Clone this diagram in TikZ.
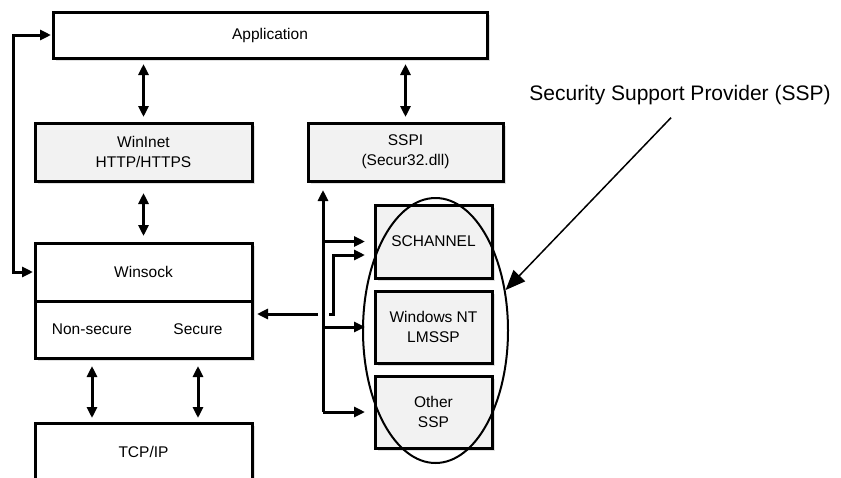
\documentclass[tikz,border=0pt]{standalone}
\usepackage{fontspec}
\setmainfont{Liberation Sans}
\usetikzlibrary{arrows.meta,shapes.geometric,shadows}
\newcommand{\boxfont}{\fontsize{15.5}{20}\selectfont}

\tikzset{
	box/.style={draw, line width=3pt, fill=white, inner sep=0pt, outer sep=0pt, align=center, font=\boxfont,
		drop shadow={shadow xshift=3pt, shadow yshift=-3pt, fill=black!12, opacity=1}},
	greybox/.style={box, fill=black!5},
	biarrow/.style={{Triangle[length=11pt,width=10pt]}-{Triangle[length=11pt,width=10pt]}, line width=3pt},
	toarrow/.style={-{Triangle[length=11pt,width=10pt]}, line width=3pt},
}

\begin{document}
\begin{tikzpicture}[x=1pt, y=-1pt]
			%%%%% START %%%%%
			\useasboundingbox (0, 0) rectangle (841, 477);
			\clip (0, 0) rectangle (841, 477);
			
			\node[box, minimum width=434pt, minimum height=46pt] (app) at (270, 35) {Application};
			\node[greybox, minimum width=217pt, minimum height=58pt] (wininet) at (143.5, 152) {WinInet\\HTTP/HTTPS};
			\node[greybox, minimum width=195pt, minimum height=58pt] (sspi) at (405.5, 152) {SSPI\\(Secur32.dll)};
			
			\node[box, minimum width=217pt, minimum height=58pt] (winsock) at (143.5, 272) {Winsock};
			\node[box, minimum width=217pt, minimum height=57pt] (wslow) at (143.5, 329.5) {};
			\node[font=\boxfont] (nonsec) at (92, 329) {Non-secure};
			\node[font=\boxfont] (sec) at (198, 329) {Secure};
			\node[box, minimum width=217pt, minimum height=58pt] (tcpip) at (143.5, 452) {TCP/IP};
			
			\node[greybox, minimum width=117pt, minimum height=73pt] (schannel) at (433.5, 241.5) {SCHANNEL};
			\node[greybox, minimum width=117pt, minimum height=72pt] (winnt) at (433.5, 327) {Windows NT\\LMSSP};
			\node[greybox, minimum width=117pt, minimum height=72pt] (other) at (433.5, 412) {Other\\SSP};
			
			\node[draw, ellipse, line width=2pt, minimum width=145pt, minimum height=265pt, inner sep=0pt] (sspring) at (435.5, 330.5) {};
			\node[font=\fontsize{21}{25}\selectfont] (ssplabel) at (680, 95) {Security Support Provider (SSP)};
			
			\draw[biarrow, shorten <=6pt, shorten >=6pt] (app.south -| wininet.north) -- (wininet.north);
			\draw[biarrow, shorten <=6pt, shorten >=6pt] (app.south -| sspi.north) -- (sspi.north);
			\draw[biarrow, shorten <=12pt, shorten >=7pt] (wininet.south) -- (winsock.north);
			\draw[biarrow, shorten <=8pt, shorten >=5pt] (wslow.south -| nonsec) -- (tcpip.north -| nonsec);
			\draw[biarrow, shorten <=8pt, shorten >=5pt] (wslow.south -| sec) -- (tcpip.north -| sec);
			\draw[biarrow, shorten <=2pt, shorten >=2pt] (app.west) -- ++(-40, 0) |- (winsock.west);
			
			\coordinate (bus) at (323, 314);
			\coordinate (ltop) at (333, 255);
			\draw[toarrow, shorten >=9pt] (other.west -| bus) -- (sspi.south -| bus);
			\foreach \n in {schannel, winnt, other}
				\draw[toarrow, shorten >=10pt] (\n.west -| bus) -- (\n.west);
			\draw[toarrow, shorten <=5pt, shorten >=5pt] (bus) -- (bus -| wslow.east);
			\draw[toarrow, shorten >=10pt] ([xshift=6pt]bus) -| (ltop) -- (ltop -| schannel.west);
			
			\draw[-{Triangle[length=20pt,width=16pt]}, line width=1.5pt, shorten <=13pt] (ssplabel.south) -- (sspring.30);
			%%%%% END %%%%%
\end{tikzpicture}
\end{document}
